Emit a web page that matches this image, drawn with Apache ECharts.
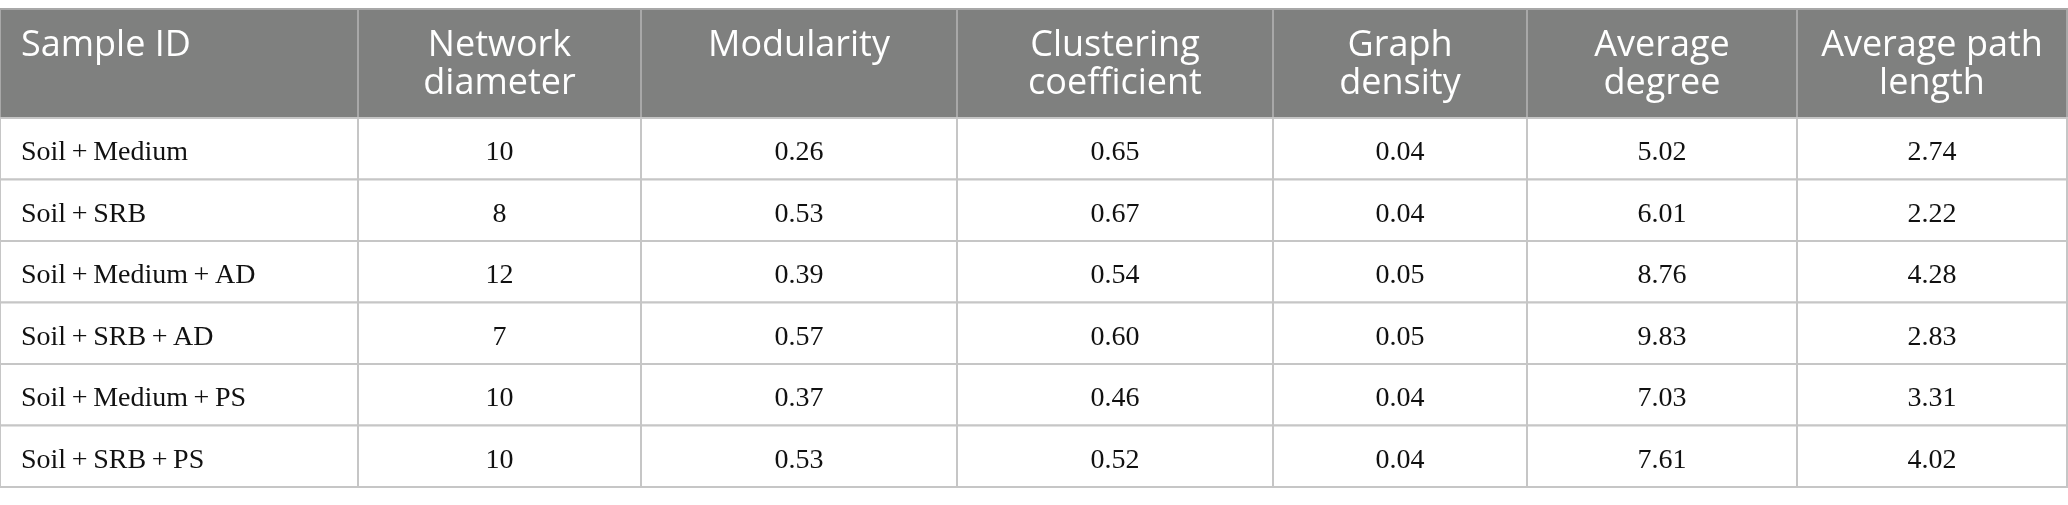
<!DOCTYPE html>
<html>
<head>
<meta charset="utf-8">
<script src="https://cdn.jsdelivr.net/npm/echarts@6.0.0/dist/echarts.min.js"></script>
<style>
html, body { margin: 0; padding: 0; background: #fff; }
#main { width: 2068px; height: 505px; }
</style>
</head>
<body>
<div id="main"></div>
<script>
// table content
var headers = ['Sample ID', 'Network\ndiameter', 'Modularity', 'Clustering\ncoefficient', 'Graph\ndensity', 'Average\ndegree', 'Average path\nlength'];
var samples = ['Soil\u2009+\u2009Medium', 'Soil\u2009+\u2009SRB', 'Soil\u2009+\u2009Medium\u2009+\u2009AD', 'Soil\u2009+\u2009SRB\u2009+\u2009AD', 'Soil\u2009+\u2009Medium\u2009+\u2009PS', 'Soil\u2009+\u2009SRB\u2009+\u2009PS'];
var networkDiameter = [10, 8, 12, 7, 10, 10];
var modularity = [0.26, 0.53, 0.39, 0.57, 0.37, 0.53];
var clustering = [0.65, 0.67, 0.54, 0.60, 0.46, 0.52];
var graphDensity = [0.04, 0.04, 0.05, 0.05, 0.04, 0.04];
var avgDegree = [5.02, 6.01, 8.76, 9.83, 7.03, 7.61];
var avgPathLength = [2.74, 2.22, 4.28, 2.83, 3.31, 4.02];

// layout (cell edges on the axes)
var colEdges = [0, 358, 641, 957, 1273, 1527, 1797, 2067];
var rowEdges = [9, 118, 179.5, 241, 302.5, 364, 425.5, 487];

var columns = [networkDiameter, modularity, clustering, graphDensity, avgDegree, avgPathLength];

function fmt(v, c) {
	return c == 0 ? String(v) : v.toFixed(2);
}

var cells = [];
for (var c = 0; c < headers.length; c++) {
	cells.push([c, 0, headers[c]]);
}
for (var r = 0; r < samples.length; r++) {
	cells.push([0, r + 1, samples[r]]);
	for (var c = 0; c < columns.length; c++) {
		cells.push([c + 1, r + 1, fmt(columns[c][r], c)]);
	}
}

function renderCell(params, api) {
	var c = api.value(0);
	var r = api.value(1);
	var txt = cells[params.dataIndex][2];
	var p0 = api.coord([colEdges[c], rowEdges[r]]);
	var p1 = api.coord([colEdges[c + 1], rowEdges[r + 1]]);
	var isHead = r === 0;
	return {
		type: 'group',
		children: [
			{
				type: 'rect',
				shape: { x: p0[0], y: p0[1], width: p1[0] - p0[0], height: p1[1] - p0[1] },
				style: {
					fill: isHead ? '#7f807f' : '#ffffff',
					stroke: isHead ? '#a8a8a8' : '#c6c6c6',
					lineWidth: 2
				}
			},
			{
				type: 'text',
				style: {
					text: txt,
					x: c === 0 ? p0[0] + 21 : (p0[0] + p1[0]) / 2,
					y: isHead ? p0[1] + 18 : (p0[1] + p1[1]) / 2 + 4,
					align: c === 0 ? 'left' : 'center',
					verticalAlign: isHead ? 'top' : 'middle',
					fill: isHead ? '#ffffff' : '#111111',
					fontFamily: isHead ? 'Open Sans' : 'Liberation Serif',
					fontSize: isHead ? 36 : 28,
					lineHeight: isHead ? 38 : 30
				}
			}
		]
	};
}

var myChart = echarts.init(document.getElementById('main'));
var option = {
	animation: false,
	grid: { left: 0, right: 0, top: 0, bottom: 0 },
	xAxis: { type: 'value', min: 0, max: 2068, show: false },
	yAxis: { type: 'value', min: 0, max: 505, inverse: true, show: false },
	series: [
		{
			type: 'custom',
			renderItem: renderCell,
			data: cells.map(function (d) { return [d[0], d[1]]; }),
			clip: false
		}
	]
};
myChart.setOption(option);
</script>
</body>
</html>
